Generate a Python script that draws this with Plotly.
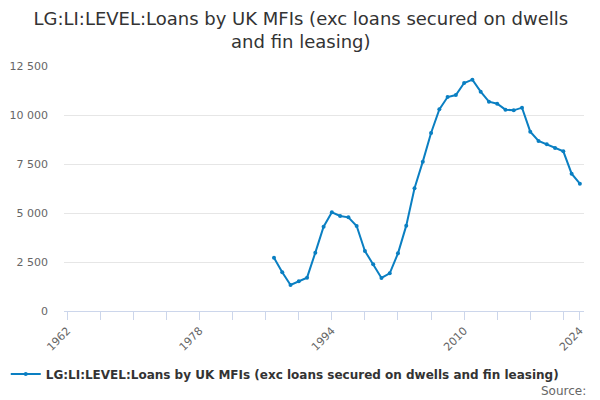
import plotly.graph_objects as go

years = list(range(1987, 2025))
values = [2721, 1973, 1327, 1514, 1701, 2976, 4303, 5034, 4847, 4779,
          4337, 3061, 2381, 1684, 1922, 2942, 4354, 6259, 7619, 9082,
          10289, 10918, 11020, 11633, 11803, 11190, 10680, 10578, 10272, 10238,
          10374, 9150, 8673, 8503, 8316, 8146, 7007, 6497]

tick_years = [1962, 1978, 1994, 2010, 2024]
y_ticks = [0, 2500, 5000, 7500, 10000, 12500]
y_labels = ["0", "2 500", "5 000", "7 500", "10 000", "12 500"]
series_name = "LG:LI:LEVEL:Loans by UK MFIs (exc loans secured on dwells and fin leasing)"

fig = go.Figure()
fig.add_trace(go.Scatter(
    x=years, y=values, mode="lines+markers", name=series_name,
    line=dict(color="#0a7fc2", width=2),
    marker=dict(size=4, color="#0a7fc2"),
))

# page body has an 8px margin, so everything is placed 8px up/left of the target
fig.update_layout(
    width=600, height=400,
    font=dict(family="DejaVu Sans", color="#666666"),
    title=dict(
        text="LG:LI:LEVEL:Loans by UK MFIs (exc loans secured on dwells<br>and fin leasing)",
        x=0.488, xanchor="center", y=0.9575, yanchor="top",
        font=dict(size=18, color="#333333"),
    ),
    plot_bgcolor="white", paper_bgcolor="white",
    margin=dict(l=56, r=24, t=58, b=97, autoexpand=False),
    showlegend=True,
    legend=dict(
        orientation="h", xref="paper", x=-0.112, xanchor="left",
        yref="container", y=0.085, yanchor="middle",
        font=dict(size=12, color="#333333", weight="bold"),
        itemwidth=30,
    ),
    xaxis=dict(
        range=[1961.6, 2024.5], automargin=False,
        tickvals=tick_years, ticktext=[str(t) for t in tick_years],
        tickangle=-45, ticks="outside", ticklen=8, tickcolor="#ccd6eb",
        minor=dict(dtick=4, tick0=1962, ticks="outside", ticklen=8, tickcolor="#ccd6eb", showgrid=False),
        showline=True, linecolor="#ccd6eb", linewidth=1,
        showgrid=False, zeroline=False,
        tickfont=dict(size=11, color="#666666"),
    ),
    yaxis=dict(
        range=[0, 12500], automargin=False,
        tickvals=y_ticks, ticktext=y_labels,
        showgrid=True, gridcolor="#e6e6e6", zeroline=False,
        showline=False, ticks="", ticklabelstandoff=15,
        tickfont=dict(size=11, color="#666666"),
    ),
)

fig.add_annotation(
    text="Source:", xref="paper", yref="paper", x=1.0077, y=-0.3265,
    xanchor="right", yanchor="middle", showarrow=False,
    font=dict(size=12, color="#666666"),
)

fig.write_html("out.html")
